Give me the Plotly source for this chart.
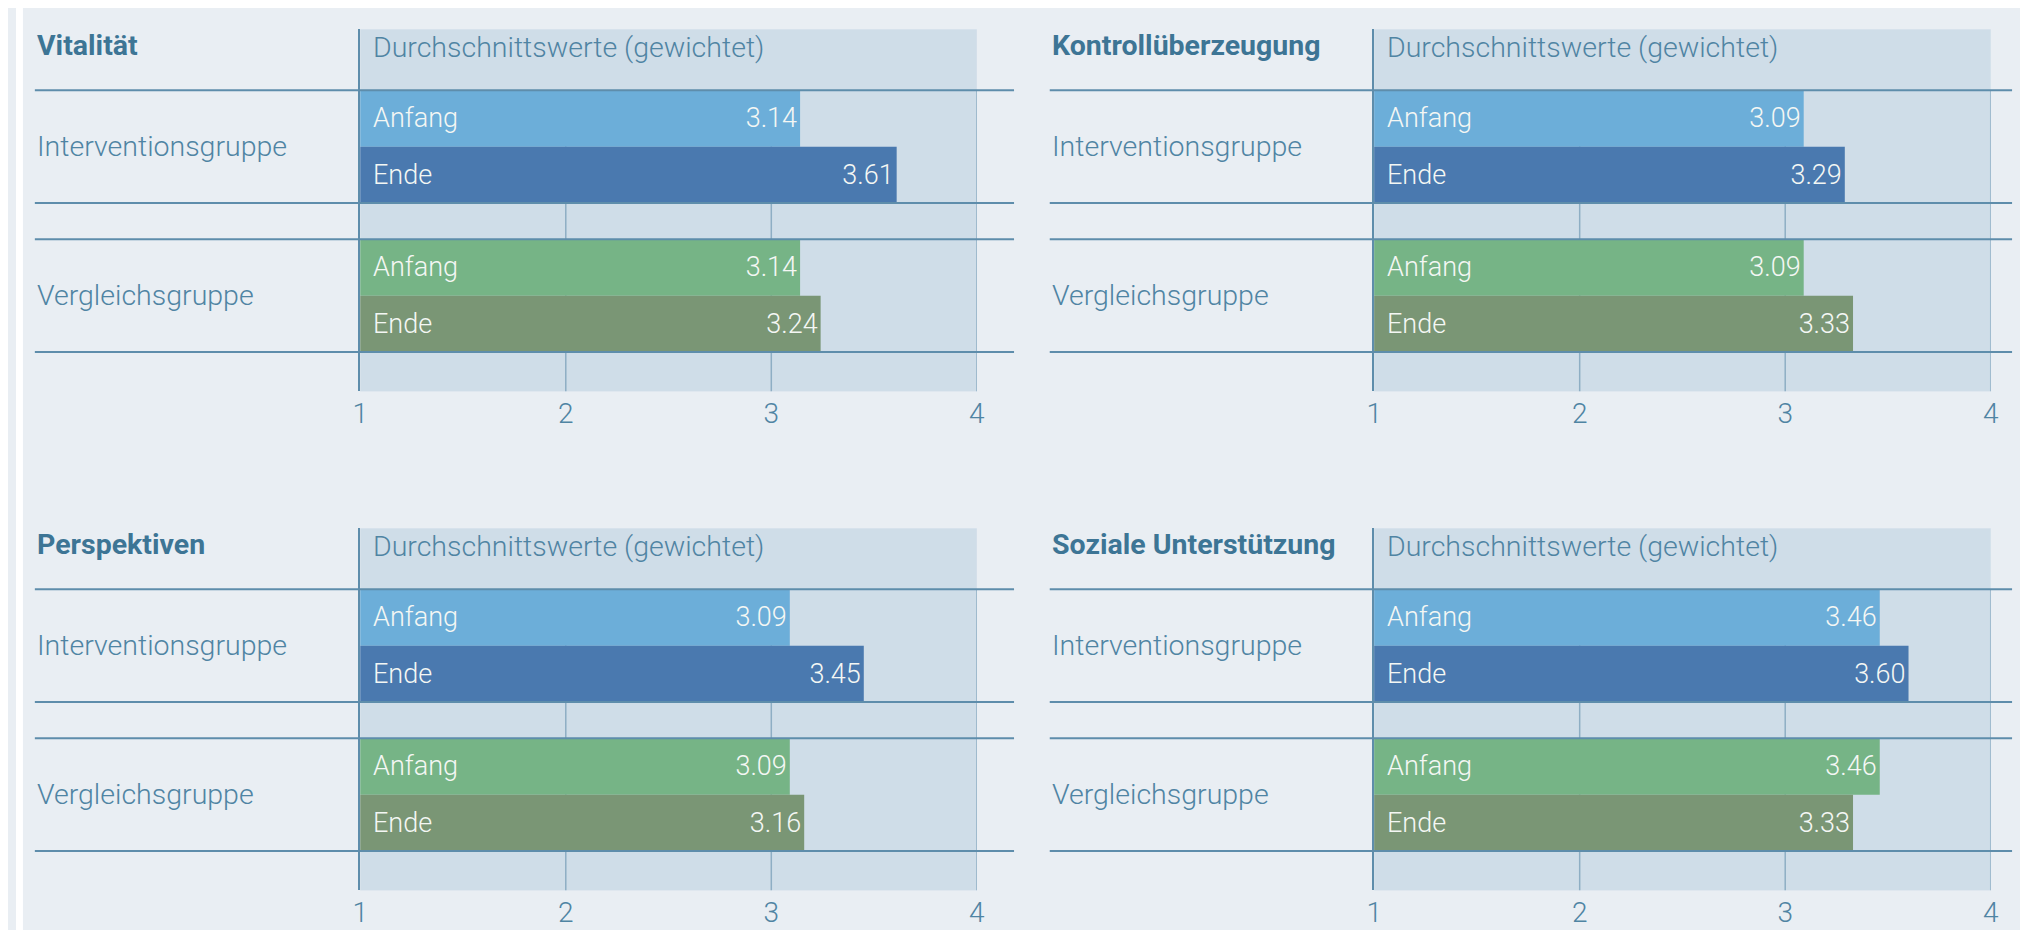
import plotly.graph_objects as go

# ---------------- data ----------------
panel_titles = ["Vitalität", "Kontrollüberzeugung", "Perspektiven", "Soziale Unterstützung"]
groups = ["Interventionsgruppe", "Vergleichsgruppe"]
stages = ["Anfang", "Ende"]
header_text = "Durchschnittswerte (gewichtet)"
x_ticks = [1, 2, 3, 4]

# [group][stage] -> [Interventionsgruppe, Vergleichsgruppe] x [Anfang, Ende]
vitalitaet = [[3.14, 3.61], [3.14, 3.24]]
kontrollueberzeugung = [[3.09, 3.29], [3.09, 3.33]]
perspektiven = [[3.09, 3.45], [3.09, 3.16]]
soziale_unterstuetzung = [[3.46, 3.60], [3.46, 3.33]]
panel_values = [vitalitaet, kontrollueberzeugung, perspektiven, soziale_unterstuetzung]

# ---------------- style ----------------
PAGE_W, PAGE_H = 2028, 938
BODY = 8                      # default browser body margin
W, H = PAGE_W - BODY, PAGE_H - 2 * BODY
BG = "#E9EEF3"
SHADE = "#CFDDE8"
LINE = "#5E8DAB"
GRID = "#8EAEC4"
TEXT = "#4F84A3"
TITLE = "#3D7595"
BAR_TEXT = "#F4F7F4"
FONT = "Roboto"
LIGHT = 300
bar_colors = [["#6CAED9", "#4A79AF"], ["#76B486", "#7A9675"]]

HEADER = 61.0
BAR = 56.35
GAP = 36.3
FOOT = 39.4
PH = HEADER + 4 * BAR + GAP + FOOT


def px(xp):
    return (xp - BODY) / W


def py(yp):
    return 1 - (yp - BODY) / H


panels = [
    dict(lab=27, px0=355, px1=976.5, lx0=27, lx1=1014, top=29.3),
    dict(lab=1050, px0=1377, px1=1998.5, lx0=1050, lx1=2020, top=29.3),
    dict(lab=27, px0=355, px1=976.5, lx0=27, lx1=1014, top=528.3),
    dict(lab=1050, px0=1377, px1=1998.5, lx0=1050, lx1=2020, top=528.3),
]


def bar_center(g, k):
    return HEADER + g * (2 * BAR + GAP) + k * BAR + BAR / 2


fig = go.Figure()
annotations = []
shapes = [
    dict(type="rect", xref="paper", yref="paper", x0=0, x1=px(15), y0=0, y1=1,
         fillcolor="white", line_width=0, layer="below"),
]
layout_axes = {}

for i, (title, vals, p) in enumerate(zip(panel_titles, panel_values, panels)):
    s = "" if i == 0 else str(i + 1)
    xr, yr = f"x{s}", f"y{s}"

    ys, xs, cols, txt = [], [], [], []
    for g in range(len(groups)):
        for k in range(len(stages)):
            ys.append(bar_center(g, k))
            xs.append(vals[g][k])
            cols.append(bar_colors[g][k])
            txt.append(f"{vals[g][k]:.2f}")
            annotations.append(dict(
                xref=xr, yref=yr, x=1, y=bar_center(g, k), text=stages[k],
                xanchor="left", yanchor="middle", xshift=11, showarrow=False,
                font=dict(family=FONT, size=27, color=BAR_TEXT, weight=LIGHT)))
        annotations.append(dict(
            xref="paper", yref=yr, x=px(p["lab"]),
            y=HEADER + g * (2 * BAR + GAP) + BAR, text=groups[g],
            xanchor="left", yanchor="middle", showarrow=False,
            font=dict(family=FONT, size=28.5, color=TEXT, weight=LIGHT)))

    fig.add_trace(go.Bar(
        x=xs, y=ys, orientation="h", width=BAR, marker=dict(color=cols, line_width=0),
        text=txt, textposition="inside", insidetextanchor="end",
        textfont=dict(family=FONT, size=27, color=BAR_TEXT, weight=LIGHT),
        xaxis=xr, yaxis=yr, showlegend=False, hoverinfo="x"))

    annotations.append(dict(
        xref="paper", yref=yr, x=px(p["lab"]), y=16, text=f"<b>{title}</b>",
        xanchor="left", yanchor="middle", showarrow=False,
        font=dict(family=FONT, size=28.5, color=TITLE)))
    annotations.append(dict(
        xref=xr, yref=yr, x=1, y=18, text=header_text, xanchor="left",
        yanchor="middle", xshift=11, showarrow=False,
        font=dict(family=FONT, size=28.5, color=TEXT, weight=LIGHT)))

    # horizontal rule lines
    for yy in [HEADER, HEADER + 2 * BAR, HEADER + 2 * BAR + GAP, HEADER + 4 * BAR + GAP]:
        shapes.append(dict(type="line", xref="paper", yref=yr, x0=px(p["lx0"]),
                           x1=min(px(p["lx1"]), 1), y0=yy, y1=yy,
                           line=dict(color=LINE, width=2), layer="above"))
    # vertical grid lines (below the bars)
    for xv in x_ticks[1:]:
        shapes.append(dict(type="line", xref=xr, yref=yr, x0=xv, x1=xv, y0=HEADER,
                           y1=PH, line=dict(color=GRID, width=1.5), layer="below"))

    layout_axes[f"xaxis{s}"] = dict(
        domain=[px(p["px0"]), px(p["px1"])], range=[1, 4], anchor=yr,
        tickvals=x_ticks, ticktext=[str(t) for t in x_ticks], showgrid=False,
        zeroline=False, showline=False, ticks="", ticklabelstandoff=3,
        tickfont=dict(family=FONT, size=28, color=TEXT, weight=LIGHT), fixedrange=True)
    layout_axes[f"yaxis{s}"] = dict(
        domain=[py(p["top"] + PH), py(p["top"])], range=[PH, 0],
        anchor=xr, showticklabels=False, showgrid=False, zeroline=False,
        showline=True, linecolor=LINE, linewidth=1.5, fixedrange=True)

fig.update_layout(
    width=W, height=H, margin=dict(l=0, r=0, t=0, b=0),
    paper_bgcolor=BG, plot_bgcolor=SHADE, barmode="overlay",
    font=dict(family=FONT, color=TEXT), annotations=annotations, shapes=shapes,
    showlegend=False, **layout_axes)

fig.write_html("out.html", config={"displayModeBar": False})
